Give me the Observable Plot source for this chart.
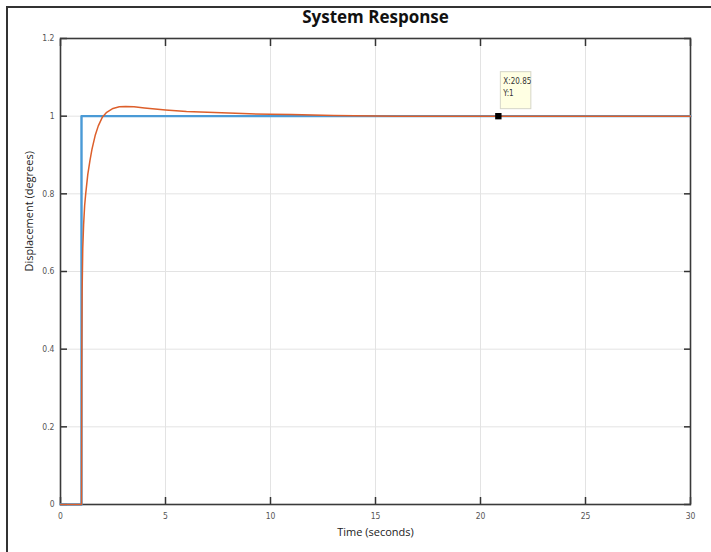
<!DOCTYPE html>
<html>
<head>
<meta charset="utf-8">
<script src="https://cdn.jsdelivr.net/npm/d3@7"></script>
<script src="https://cdn.jsdelivr.net/npm/@observablehq/plot@0.6"></script>
<style>
  html, body { margin: 0; padding: 0; background: #fff; }
  #wrap { position: relative; width: 711px; height: 552px; overflow: hidden; background: #fff; }
  #title { height: 27px; padding-top: 3px; padding-left: 60px; width: 631px; text-align: center;
           font: bold 17px "Open Sans", "DejaVu Sans", sans-serif; line-height: 28px; color: #111; }
  .edge { position: absolute; background: #333; }
  svg { display: block; }
</style>
</head>
<body>
<div id="wrap">
  <div id="title">System Response</div>
  <div id="chart"></div>
  <div class="edge" style="left:6px;top:6px;width:2px;height:546px;"></div>
  <div class="edge" style="left:6px;top:6px;width:705px;height:2px;"></div>
</div>
<script>
// ---- data ----
const timeTicks = [0, 5, 10, 15, 20, 25, 30];
const dispTicks = [0, 0.2, 0.4, 0.6, 0.8, 1, 1.2];

// step input (blue)
const inputTime = [0, 1, 1, 30];
const inputDisp = [0, 0, 1, 1];

// system response (orange)
const respTime = [0, 1, 1.01, 1.03, 1.06, 1.1, 1.15, 1.2, 1.3, 1.4, 1.5, 1.65, 1.8, 2.0, 2.2, 2.5, 2.8, 3.1, 3.5, 4, 5, 6, 7, 8, 9, 10, 11, 12, 13, 14, 16, 30];
const respDisp = [0, 0, 0.35, 0.55, 0.66, 0.72, 0.77, 0.80, 0.85, 0.885, 0.915, 0.95, 0.975, 0.998, 1.01, 1.02, 1.024, 1.025, 1.024, 1.021, 1.016, 1.012, 1.010, 1.008, 1.006, 1.005, 1.004, 1.003, 1.002, 1.001, 1.0, 1.0];

// data tip
const tipTime = [20.85];
const tipDisp = [1];
const tipLabel = ["X:20.85\nY:1"];

const xLabel = "Time (seconds)";
const yLabel = "Displacement (degrees)";

const inputData = inputTime.map((t, i) => ({t, v: inputDisp[i]}));
const respData = respTime.map((t, i) => ({t, v: respDisp[i]}));
const tipData = tipTime.map((t, i) => ({t, v: tipDisp[i], label: tipLabel[i]}));

const tickFont = '"Liberation Sans Narrow", "DejaVu Sans Condensed", "Liberation Sans", sans-serif';
const blank = () => "";

const chart = Plot.plot({
  width: 711,
  height: 522,
  marginLeft: 60,
  marginRight: 21,
  marginTop: 8,
  marginBottom: 48,
  style: {background: "#fff", fontFamily: tickFont, fontSize: "8.5px", color: "#555"},
  x: {domain: [0, 30], ticks: timeTicks},
  y: {domain: [0, 1.2], ticks: dispTicks},
  marks: [
    Plot.gridX(timeTicks, {stroke: "#e3e3e3", strokeOpacity: 1, strokeWidth: 1}),
    Plot.gridY(dispTicks, {stroke: "#e3e3e3", strokeOpacity: 1, strokeWidth: 1}),
    // tick labels
    Plot.axisX(timeTicks, {anchor: "bottom", tickSize: 0, tickPadding: 8, tickFormat: d => String(d), fill: "#555", label: null}),
    Plot.axisY(dispTicks, {anchor: "left", tickSize: 0, tickPadding: 6, tickFormat: d => String(d), fill: "#555", label: null}),
    // inward ticks on all four sides
    Plot.axisX(timeTicks, {anchor: "bottom", tickSize: -7, tickFormat: blank, stroke: "#333", strokeWidth: 1.5, label: null}),
    Plot.axisX(timeTicks, {anchor: "top", tickSize: -7, tickFormat: blank, stroke: "#333", strokeWidth: 1.5, label: null}),
    Plot.axisY(dispTicks, {anchor: "left", tickSize: -7, tickFormat: blank, stroke: "#333", strokeWidth: 1.5, label: null}),
    Plot.axisY(dispTicks, {anchor: "right", tickSize: -7, tickFormat: blank, stroke: "#333", strokeWidth: 1.5, label: null}),
    Plot.frame({stroke: "#3a3a3a", strokeWidth: 1.6}),
    // lines (drawn over the axes box, as in the reference)
    Plot.line(inputData, {x: "t", y: "v", stroke: "#4a9ad6", strokeWidth: 2.4}),
    Plot.line(respData, {x: "t", y: "v", stroke: "#dd5f2b", strokeWidth: 1.5}),
    // data tip
    Plot.rect(tipData, {x1: "t", x2: "t", y1: "v", y2: "v", insetLeft: 2.5, insetRight: -33, insetTop: -44, insetBottom: 7,
      fill: "#ffffe3", stroke: "#d6d6c8", strokeWidth: 1}),
    Plot.text(tipData, {x: "t", y: "v", text: "label", dx: 5, dy: -30, textAnchor: "start", lineAnchor: "middle",
      lineHeight: 1.55, fontSize: 8, fill: "#333", fontFamily: tickFont}),
    Plot.dot(tipData, {x: "t", y: "v", symbol: "square", r: 3.6, fill: "#000", stroke: "none"}),
    // axis titles
    Plot.text([xLabel], {frameAnchor: "bottom", dy: 31, text: d => d, fontSize: 11, fill: "#222", fontFamily: '"Open Sans", sans-serif'}),
    Plot.text([yLabel], {frameAnchor: "left", dx: -31, rotate: -90, text: d => d, fontSize: 11, fill: "#222", fontFamily: '"Open Sans", sans-serif'})
  ]
});
document.getElementById("chart").appendChild(chart);
</script>
</body>
</html>
